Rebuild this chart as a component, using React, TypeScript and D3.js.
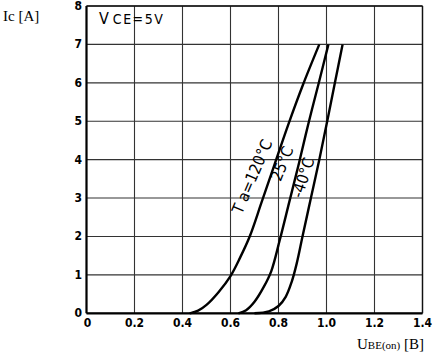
import React from "react";
import * as d3 from "d3";

const xTicks = [0, 0.2, 0.4, 0.6, 0.8, 1.0, 1.2, 1.4];
const xTickLabels = ["0", "0.2", "0.4", "0.6", "0.8", "1.0", "1.2", "1.4"];
const yTicks = [0, 1, 2, 3, 4, 5, 6, 7, 8];

// [Ube, Ic]
const curve120: [number, number][] = [
  [0.43, 0], [0.465, 0.07], [0.5, 0.22], [0.55, 0.55], [0.6, 0.97], [0.64, 1.45],
  [0.68, 2.0], [0.73, 2.9], [0.785, 3.9], [0.84, 4.9], [0.902, 5.95], [0.97, 7.0],
];
const curve25: [number, number][] = [
  [0.633, 0], [0.665, 0.08], [0.7, 0.3], [0.738, 0.68], [0.77, 1.1], [0.805, 1.9],
  [0.845, 2.9], [0.885, 3.9], [0.925, 4.95], [0.968, 6.0], [1.008, 7.0],
];
const curveM40: [number, number][] = [
  [0.7, 0], [0.76, 0.05], [0.8, 0.19], [0.83, 0.43], [0.855, 0.82], [0.876, 1.3],
  [0.9, 2.0], [0.935, 3.0], [0.97, 4.0], [1.003, 5.0], [1.035, 6.0], [1.067, 7.0],
];

const labels = [
  { text: "T a=120°C", x: 253, y: 177, rot: -67 },
  { text: "25°C", x: 283, y: 164, rot: -68 },
  { text: "-40°C", x: 304, y: 178, rot: -72 },
];

export default function App() {
  const x = d3.scaleLinear().domain([0, 1.4]).range([86.5, 422.5]);
  const y = d3.scaleLinear().domain([0, 8]).range([313.3, 6]);
  const line = d3
    .line<[number, number]>()
    .x((d) => x(d[0]))
    .y((d) => y(d[1]))
    .curve(d3.curveCatmullRom.alpha(0.5));

  const tickFont = "'DejaVu Sans Condensed', 'DejaVu Sans', sans-serif";

  return (
    <svg
      width={434}
      height={357}
      style={{ position: "absolute", left: 0, top: 0, background: "#fff" }}
    >
      <rect x={0} y={0} width={434} height={357} fill="#fff" />
      {/* grid */}
      {xTicks.map((t) => (
        <line key={"gx" + t} x1={x(t)} x2={x(t)} y1={y(8)} y2={y(0)} stroke="#333" strokeWidth={1.1} />
      ))}
      {yTicks.map((t) => (
        <line key={"gy" + t} x1={x(0)} x2={x(1.4)} y1={y(t)} y2={y(t)} stroke="#333" strokeWidth={1.1} />
      ))}
      {/* frame */}
      <line x1={x(0)} x2={x(0)} y1={y(8)} y2={y(0)} stroke="#000" strokeWidth={2.2} />
      <line x1={x(0)} x2={x(1.4)} y1={y(0)} y2={y(0)} stroke="#000" strokeWidth={2.2} />
      <line x1={x(0)} x2={x(1.4)} y1={y(8)} y2={y(8)} stroke="#111" strokeWidth={1.6} />
      <line x1={x(1.4)} x2={x(1.4)} y1={y(8)} y2={y(0)} stroke="#111" strokeWidth={1.4} />

      {/* curves */}
      {[curve120, curve25, curveM40].map((c, i) => (
        <path key={"c" + i} d={line(c) || ""} fill="none" stroke="#000" strokeWidth={2.4} />
      ))}

      {/* y tick labels */}
      {yTicks.map((t) => (
        <text
          key={"ty" + t}
          x={82}
          y={y(t) + 4}
          textAnchor="end"
          fontFamily={tickFont}
          fontWeight="bold"
          fontSize={12}
        >
          {t}
        </text>
      ))}
      {/* x tick labels */}
      {xTicks.map((t, i) => (
        <text
          key={"tx" + t}
          x={x(t) + (i === 0 ? 1 : 0)}
          y={327}
          textAnchor="middle"
          fontFamily={tickFont}
          fontWeight="bold"
          fontSize={12}
        >
          {xTickLabels[i]}
        </text>
      ))}

      {/* VCE label */}
      <text x={99} y={24} fontFamily={tickFont} fontSize={16}>
        V
        <tspan dx={4} fontSize={14} letterSpacing={1.5}>CE=5V</tspan>
      </text>

      {/* curve labels */}
      {labels.map((l) => (
        <text
          key={l.text}
          transform={`translate(${l.x},${l.y}) rotate(${l.rot})`}
          textAnchor="middle"
          dominantBaseline="middle"
          fontFamily={tickFont}
          fontSize={16}
        >
          {l.text}
        </text>
      ))}

      {/* axis titles */}
      <text x={3} y={21} fontFamily="'Liberation Serif', serif" fontSize={15}>
        Ic [A]
      </text>
      <text x={424} y={349} textAnchor="end" fontFamily="'Liberation Serif', serif" fontSize={15}>
        U<tspan fontSize={11}>BE(on)</tspan> [B]
      </text>
    </svg>
  );
}
